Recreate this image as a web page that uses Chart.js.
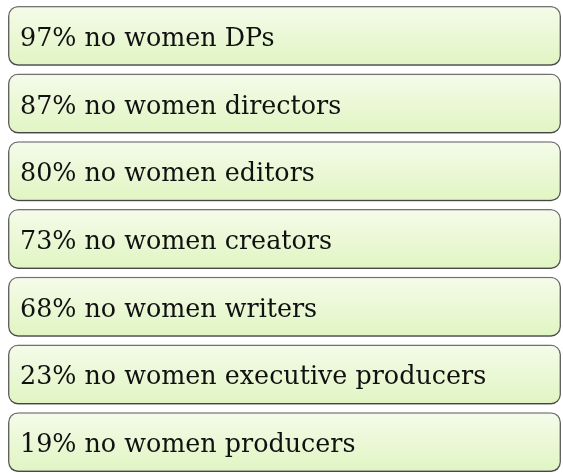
<!DOCTYPE html>
<html>
<head>
<meta charset="utf-8">
<script src="https://cdn.jsdelivr.net/npm/chart.js@4"></script>
<style>
html,body{margin:0;padding:0;background:#fff;overflow:hidden;}
#wrap{position:relative;width:563px;height:477px;}
</style>
</head>
<body>
<div id="wrap"><canvas id="c"></canvas></div>
<script>
const roles = ["DPs", "directors", "editors", "creators", "writers", "executive producers", "producers"];
const percentNoWomen = [97, 87, 80, 73, 68, 23, 19];
const boxExtent = [100, 100, 100, 100, 100, 100, 100];
const labels = roles.map((r, i) => percentNoWomen[i] + "% no women " + r);

const shadowPlugin = {
  id: 'shadow',
  beforeDatasetsDraw(chart) {
    const ctx = chart.ctx;
    ctx.save();
    ctx.shadowColor = 'rgba(0,0,0,0.5)';
    ctx.shadowBlur = 5;
    ctx.shadowOffsetX = 0;
    ctx.shadowOffsetY = 3;
  },
  afterDatasetsDraw(chart) {
    chart.ctx.restore();
    const ctx = chart.ctx;
    const meta = chart.getDatasetMeta(0);
    ctx.save();
    ctx.fillStyle = '#111';
    ctx.font = '25.4px "DejaVu Serif"';
    ctx.textBaseline = 'alphabetic';
    meta.data.forEach((bar, i) => {
      ctx.fillText(labels[i], bar.base + 12, bar.y + 10);
    });
    ctx.restore();
  }
};

new Chart(document.getElementById('c'), {
  type: 'bar',
  data: {
    labels: labels,
    datasets: [{
      data: boxExtent,
      backgroundColor(context) {
        const chart = context.chart;
        const ys = chart.scales && chart.scales.y;
        if (!chart.chartArea || !ys) return '#eaf7d2';
        const yc = ys.getPixelForValue(context.dataIndex);
        const h = 60;
        if (!isFinite(yc)) return '#eaf7d2';
        const g = chart.ctx.createLinearGradient(0, yc - h / 2, 0, yc + h / 2);
        g.addColorStop(0, '#f5fbea');
        g.addColorStop(1, '#e0f5c2');
        return g;
      },
      borderColor: '#777777',
      borderWidth: 1.5,
      borderRadius: 10,
      borderSkipped: false,
      barPercentage: 0.885,
      categoryPercentage: 1
    }]
  },
  options: {
    indexAxis: 'y',
    responsive: true,
    maintainAspectRatio: false,
    animation: false,
    layout: { padding: { left: 8, right: 2, top: 2, bottom: 1 } },
    plugins: { legend: { display: false }, tooltip: { enabled: false } },
    scales: {
      x: { display: false, min: 0, max: 100 },
      y: { display: false }
    }
  },
  plugins: [shadowPlugin]
});
</script>
</body>
</html>
